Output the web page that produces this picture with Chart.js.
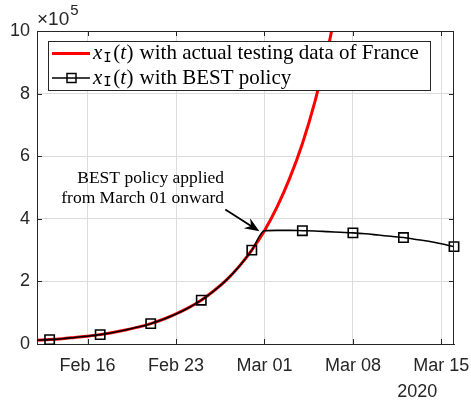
<!DOCTYPE html>
<html>
<head>
<meta charset="utf-8">
<script src="https://cdn.jsdelivr.net/npm/chart.js@4.4.1/dist/chart.umd.min.js"></script>
<style>
  html, body { margin: 0; background: #fff; }
</style>
</head>
<body>
<canvas id="myChart" width="471" height="409"></canvas>
<script>
// day 0 = Feb 12, 2020
const days = [0, 1, 2, 3, 4, 5, 6, 7, 8, 9, 10, 11, 12, 13, 14, 15, 16, 17, 18, 19, 20,
  21, 22, 23, 24, 25, 26, 27, 28, 29, 30, 31, 32, 33];

// x_I(t) with actual testing data (x 1e5), Feb 12 .. Mar 07
const actual = [0.12, 0.14, 0.17, 0.21, 0.25, 0.30, 0.37, 0.45, 0.54, 0.65, 0.79, 0.96,
  1.16, 1.40, 1.70, 2.05, 2.48, 3.00, 3.62, 4.38, 5.30, 6.40, 7.75, 9.40, 11.4];

// x_I(t) with BEST policy (x 1e5), Feb 12 .. Mar 16
const best = [0.12, 0.14, 0.17, 0.21, 0.25, 0.30, 0.37, 0.45, 0.54, 0.65, 0.79, 0.96,
  1.16, 1.40, 1.70, 2.05, 2.48, 3.00, 3.62, 3.63, 3.63, 3.62, 3.61, 3.59, 3.57, 3.55,
  3.52, 3.48, 3.44, 3.40, 3.34, 3.28, 3.20, 3.11];

// days that carry a square marker
const markerDays = [1, 5, 9, 13, 17, 21, 25, 29, 33];

const tickDays = [4, 11, 18, 25, 32];
const tickLabels = ["Feb 16", "Feb 23", "Mar 01", "Mar 08", "Mar 15"];
const yTicks = [0, 2, 4, 6, 8, 10];

const legendLabels = ["with actual testing data of France", "with BEST policy"];
const noteLines = ["BEST policy applied", "from March 01 onward"];

const sansFont = "'Liberation Sans', Arial, sans-serif";
const serifFont = "'Liberation Serif', 'DejaVu Serif', serif";
const axisColor = "#262626";

const ctx = document.getElementById("myChart");

// draws x_I(t) followed by a label
const drawMathLabel = (c, x, y, text, size) => {
  c.textBaseline = "middle";
  c.textAlign = "left";
  c.fillStyle = "#000";
  c.font = "italic " + size + "px " + serifFont;
  c.fillText("x", x, y);
  x += c.measureText("x").width + 1;
  c.font = Math.round(size * 0.68) + "px 'DejaVu Sans Mono', monospace";
  c.fillText("I", x, y + size * 0.22);
  x += c.measureText("I").width + 1.5;
  c.font = size + "px " + serifFont;
  c.fillText("(", x, y);
  x += c.measureText("(").width;
  c.font = "italic " + size + "px " + serifFont;
  c.fillText("t", x, y);
  x += c.measureText("t").width + 0.5;
  c.font = size + "px " + serifFont;
  c.fillText(")", x, y);
  x += c.measureText(")").width + 6;
  c.fillText(text, x, y);
};

const extras = {
  id: "extras",
  afterDraw(chart) {
    const c = chart.ctx;
    const a = chart.chartArea;
    const xs = chart.scales.x;
    const ys = chart.scales.y;
    c.save();

    // top and right box lines
    c.strokeStyle = axisColor;
    c.lineWidth = 1;
    c.beginPath();
    c.moveTo(a.left, a.top + 0.5);
    c.lineTo(a.right, a.top + 0.5);
    c.moveTo(a.right - 0.5, a.top);
    c.lineTo(a.right - 0.5, a.bottom);
    c.stroke();

    // inward ticks on all four sides
    c.beginPath();
    tickDays.forEach((d) => {
      const px = Math.round(xs.getPixelForValue(d)) + 0.5;
      c.moveTo(px, a.bottom);
      c.lineTo(px, a.bottom - 5);
      c.moveTo(px, a.top);
      c.lineTo(px, a.top + 5);
    });
    yTicks.forEach((v) => {
      const py = Math.round(ys.getPixelForValue(v)) + 0.5;
      c.moveTo(a.left, py);
      c.lineTo(a.left + 5, py);
      c.moveTo(a.right, py);
      c.lineTo(a.right - 5, py);
    });
    c.stroke();

    // exponent label
    c.fillStyle = axisColor;
    c.textBaseline = "alphabetic";
    c.textAlign = "left";
    c.font = "19px " + sansFont;
    c.fillText("\u00d710", a.left, a.top - 6);
    const w = c.measureText("\u00d710").width;
    c.font = "15px " + sansFont;
    c.fillText("5", a.left + w + 1, a.top - 16);

    // year label
    c.font = "18px " + sansFont;
    c.textAlign = "center";
    c.textBaseline = "middle";
    c.fillText("2020", xs.getPixelForValue(30.1), a.bottom + 48);

    // annotation
    c.fillStyle = "#000";
    c.font = "17.5px " + serifFont;
    c.textAlign = "right";
    c.fillText(noteLines[0], xs.getPixelForValue(14.8), ys.getPixelForValue(5.3));
    c.fillText(noteLines[1], xs.getPixelForValue(14.8), ys.getPixelForValue(4.66));

    // arrow
    const x0 = xs.getPixelForValue(14.9), y0 = ys.getPixelForValue(4.3);
    const x1 = xs.getPixelForValue(17.6), y1 = ys.getPixelForValue(3.6);
    const ang = Math.atan2(y1 - y0, x1 - x0);
    c.strokeStyle = "#000";
    c.lineWidth = 1.8;
    c.beginPath();
    c.moveTo(x0, y0);
    c.lineTo(x1 - 8 * Math.cos(ang), y1 - 8 * Math.sin(ang));
    c.stroke();
    c.beginPath();
    c.moveTo(x1, y1);
    c.lineTo(x1 - 16 * Math.cos(ang - 0.38), y1 - 16 * Math.sin(ang - 0.38));
    c.lineTo(x1 - 10 * Math.cos(ang), y1 - 10 * Math.sin(ang));
    c.lineTo(x1 - 16 * Math.cos(ang + 0.38), y1 - 16 * Math.sin(ang + 0.38));
    c.closePath();
    c.fill();

    // legend
    const lx = a.left + 11, ly = a.top + 10, lw = 382, lh = 49;
    c.fillStyle = "#fff";
    c.fillRect(lx, ly, lw, lh);
    c.strokeStyle = axisColor;
    c.lineWidth = 1;
    c.strokeRect(lx + 0.5, ly + 0.5, lw, lh);

    const r1 = ly + 12.5, r2 = ly + 37;
    c.strokeStyle = "#ff0000";
    c.lineWidth = 3;
    c.beginPath();
    c.moveTo(lx + 4, r1);
    c.lineTo(lx + 42, r1);
    c.stroke();
    c.strokeStyle = "#000";
    c.lineWidth = 1.5;
    c.beginPath();
    c.moveTo(lx + 4, r2);
    c.lineTo(lx + 42, r2);
    c.stroke();
    c.strokeRect(lx + 19, r2 - 4.5, 9, 9);

    drawMathLabel(c, lx + 45, r1, legendLabels[0], 21);
    drawMathLabel(c, lx + 45, r2, legendLabels[1], 21);

    c.restore();
  },
};

new Chart(ctx, {
  type: "line",
  data: {
    datasets: [
      {
        label: "actual",
        data: actual.map((v, i) => ({ x: days[i], y: v })),
        borderColor: "#ff0000",
        borderWidth: 3,
        pointRadius: 0,
        cubicInterpolationMode: "monotone",
        order: 1,
      },
      {
        label: "best",
        data: best.map((v, i) => ({ x: days[i], y: v })),
        borderColor: "#000",
        borderWidth: 1.6,
        pointStyle: "rect",
        pointRadius: (p) => (markerDays.includes(days[p.dataIndex]) ? 6.6 : 0),
        pointBorderWidth: 1.6,
        pointBorderColor: "#000",
        pointBackgroundColor: "rgba(0,0,0,0)",
        cubicInterpolationMode: "monotone",
        clip: 8,
        order: 0,
      },
    ],
  },
  options: {
    responsive: false,
    animation: false,
    devicePixelRatio: 1,
    layout: { padding: { top: 31, right: 17, left: 0, bottom: 0 } },
    plugins: { legend: { display: false }, tooltip: { enabled: false } },
    scales: {
      x: {
        type: "linear",
        min: 0,
        max: 33,
        afterFit: (s) => {
          s.height = 65;
          s.paddingLeft = 0;
          s.paddingRight = 0;
        },
        afterBuildTicks: (s) => { s.ticks = tickDays.map((d) => ({ value: d })); },
        ticks: {
          callback: (v) => tickLabels[tickDays.indexOf(v)],
          font: { family: sansFont, size: 18 },
          color: axisColor,
          padding: 11,
          maxRotation: 0,
          autoSkip: false,
        },
        grid: { color: "#dcdcdc", drawTicks: false },
        border: { color: axisColor, width: 1 },
      },
      y: {
        min: 0,
        max: 10,
        afterFit: (s) => {
          s.width = 37;
          s.paddingTop = 0;
          s.paddingBottom = 0;
        },
        afterBuildTicks: (s) => { s.ticks = yTicks.map((v) => ({ value: v })); },
        ticks: {
          font: { family: sansFont, size: 18 },
          color: axisColor,
          padding: 7,
        },
        grid: { color: "#dcdcdc", drawTicks: false },
        border: { color: axisColor, width: 1 },
      },
    },
  },
  plugins: [extras],
});
</script>
</body>
</html>
